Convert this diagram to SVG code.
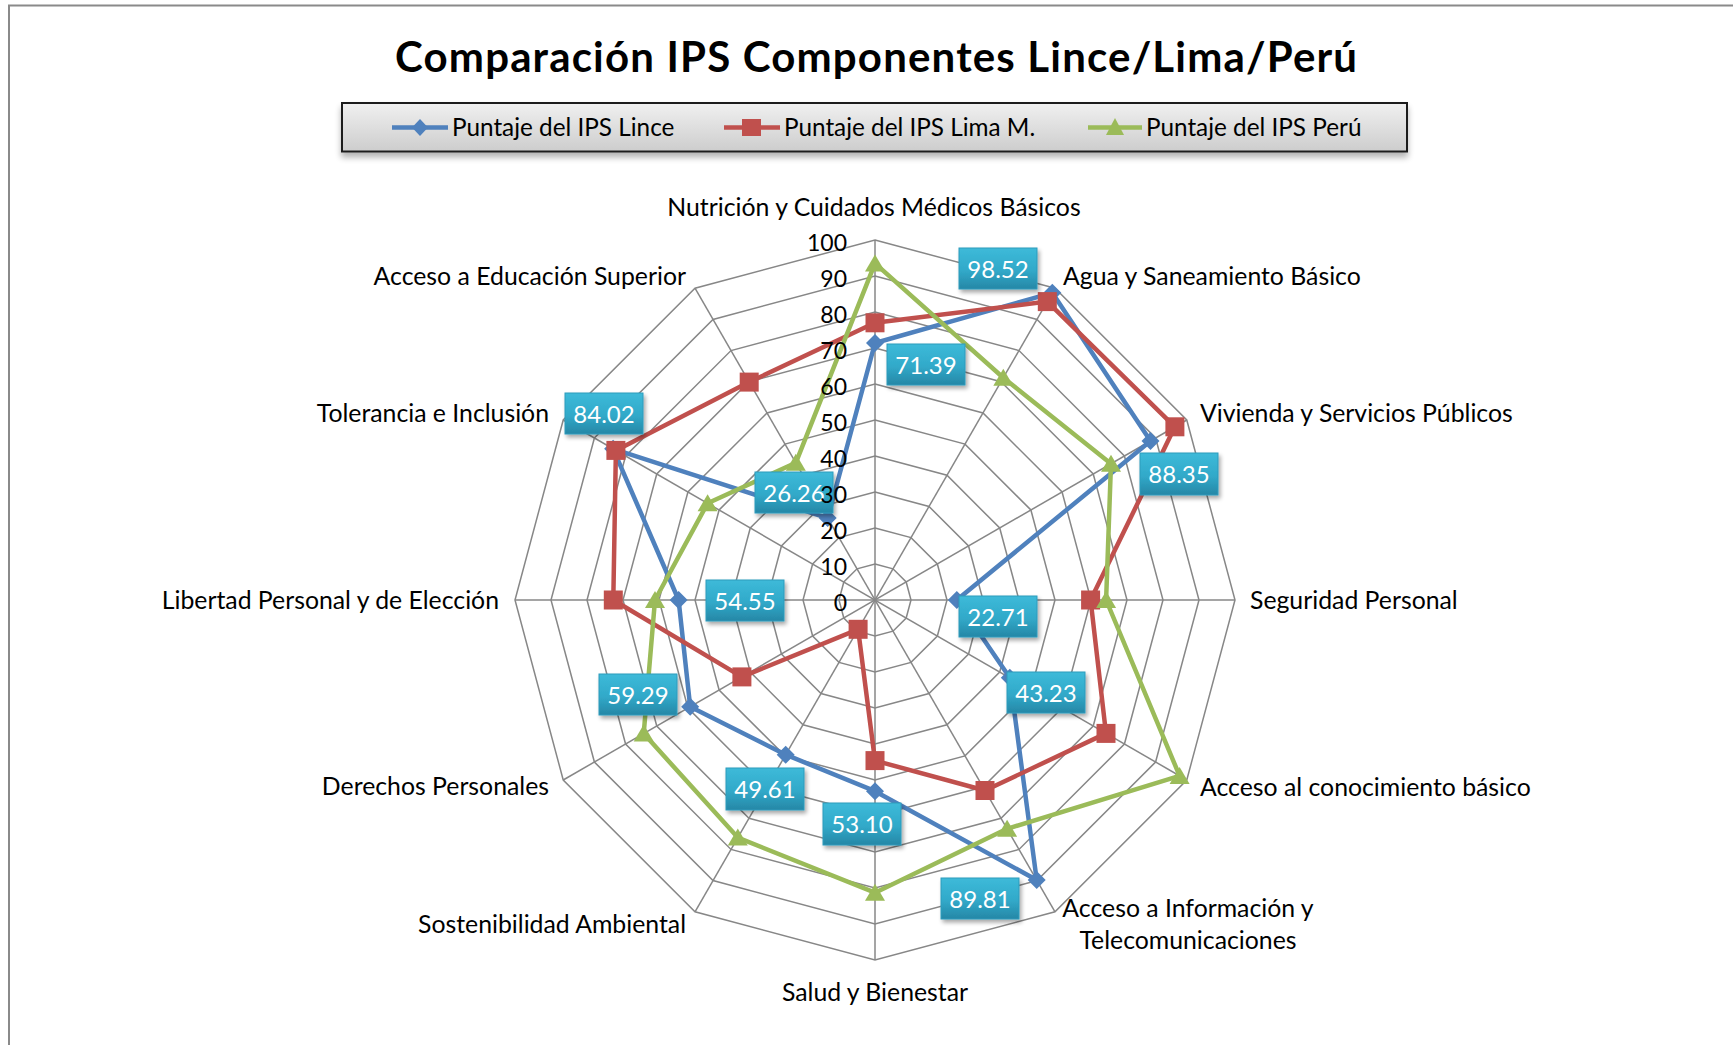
<svg xmlns="http://www.w3.org/2000/svg" xmlns:xlink="http://www.w3.org/1999/xlink" width="1733" height="1045" viewBox="0 0 1733 1045">
<style>
  text { font-family: Lato, "Liberation Sans", sans-serif; fill: #000; }
  .title { font-size: 42px; font-weight: bold; }
  .leg { font-size: 24.3px; }
  .ax { font-size: 24.8px; }
  .sc { font-size: 23px; text-anchor: end; }
  .dl { font-size: 24px; fill: #fff; text-anchor: middle; }
  .grid { fill: none; stroke: #878787; stroke-width: 1.5; }
  .lince { fill: none; stroke: #4F81BD; stroke-width: 4.5; stroke-linejoin: round; }
  .lima { fill: none; stroke: #C0504D; stroke-width: 4.5; stroke-linejoin: round; }
  .peru { fill: none; stroke: #9BBB59; stroke-width: 4.5; stroke-linejoin: round; }
  .box { fill: url(#boxg); stroke: #2C9BBC; stroke-width: 1; filter: url(#sh); }
</style>
<defs>
  <linearGradient id="boxg" x1="0" y1="0" x2="0" y2="1">
    <stop offset="0" stop-color="#3DBAD9"/>
    <stop offset="0.55" stop-color="#31A9C9"/>
    <stop offset="1" stop-color="#2687A6"/>
  </linearGradient>
  <linearGradient id="legg" x1="0" y1="0" x2="0" y2="1">
    <stop offset="0" stop-color="#F0F0F0"/>
    <stop offset="1" stop-color="#CDCDCD"/>
  </linearGradient>
  <filter id="sh" x="-20%" y="-20%" width="150%" height="160%">
    <feGaussianBlur in="SourceAlpha" stdDeviation="2"/>
    <feOffset dx="2" dy="3" result="b"/>
    <feComponentTransfer><feFuncA type="linear" slope="0.35"/></feComponentTransfer>
    <feMerge><feMergeNode/><feMergeNode in="SourceGraphic"/></feMerge>
  </filter>
  <filter id="lsh" x="-5%" y="-30%" width="110%" height="180%">
    <feGaussianBlur in="SourceAlpha" stdDeviation="3"/>
    <feOffset dx="0" dy="5" result="b"/>
    <feComponentTransfer><feFuncA type="linear" slope="0.3"/></feComponentTransfer>
    <feMerge><feMergeNode/><feMergeNode in="SourceGraphic"/></feMerge>
  </filter>
  <polygon id="ring" points="0,-360 180,-311.77 311.77,-180 360,0 311.77,180 180,311.77 0,360 -180,311.77 -311.77,180 -360,0 -311.77,-180 -180,-311.77" class="grid" vector-effect="non-scaling-stroke"/>
  <marker id="mDia" markerUnits="userSpaceOnUse" markerWidth="24" markerHeight="24" refX="12" refY="12" viewBox="0 0 24 24" overflow="visible">
    <polygon points="12,3 21,12 12,21 3,12" fill="#4F81BD"/>
  </marker>
  <marker id="mSq" markerUnits="userSpaceOnUse" markerWidth="24" markerHeight="24" refX="12" refY="12" viewBox="0 0 24 24" overflow="visible">
    <rect x="2.5" y="2.5" width="19" height="19" fill="#C0504D"/>
  </marker>
  <marker id="mTri" markerUnits="userSpaceOnUse" markerWidth="24" markerHeight="24" refX="12" refY="12" viewBox="0 0 24 24" overflow="visible">
    <polygon points="12,3 22,20 2,20" fill="#9BBB59"/>
  </marker>
</defs>

<rect x="0" y="0" width="1733" height="1045" fill="#fff"/>
<rect x="9" y="5.5" width="1800" height="1100" fill="#fff" stroke="#8A8A8A" stroke-width="2"/>

<g id="title"><text class="title" x="876" y="72" text-anchor="middle" textLength="962">Comparación IPS Componentes Lince/Lima/Perú</text></g>

<g id="legend">
  <rect x="342" y="103" width="1065" height="48.5" fill="url(#legg)" stroke="#1E1E1E" stroke-width="2" filter="url(#lsh)"/>
  <line x1="392" y1="127.5" x2="448" y2="127.5" stroke="#4F81BD" stroke-width="4.5"/>
  <polygon points="420,119 428,127.5 420,136 412,127.5" fill="#4F81BD"/>
  <text class="leg" x="452" y="136">Puntaje del IPS Lince</text>
  <line x1="724" y1="127.5" x2="780" y2="127.5" stroke="#C0504D" stroke-width="4.5"/>
  <rect x="742" y="119" width="19" height="17" fill="#C0504D"/>
  <text class="leg" x="784" y="136">Puntaje del IPS Lima M.</text>
  <line x1="1088" y1="127.5" x2="1142" y2="127.5" stroke="#9BBB59" stroke-width="4.5"/>
  <polygon points="1115,118 1124,135 1106,135" fill="#9BBB59"/>
  <text class="leg" x="1146" y="136">Puntaje del IPS Perú</text>
</g>

<g id="grid" transform="translate(875,600)">
  <use href="#ring" transform="scale(0.1)"/>
  <use href="#ring" transform="scale(0.2)"/>
  <use href="#ring" transform="scale(0.3)"/>
  <use href="#ring" transform="scale(0.4)"/>
  <use href="#ring" transform="scale(0.5)"/>
  <use href="#ring" transform="scale(0.6)"/>
  <use href="#ring" transform="scale(0.7)"/>
  <use href="#ring" transform="scale(0.8)"/>
  <use href="#ring" transform="scale(0.9)"/>
  <use href="#ring"/>
  <g class="grid">
    <line x1="0" y1="-360" x2="0" y2="360"/>
    <line x1="180" y1="-311.77" x2="-180" y2="311.77"/>
    <line x1="311.77" y1="-180" x2="-311.77" y2="180"/>
    <line x1="360" y1="0" x2="-360" y2="0"/>
    <line x1="311.77" y1="180" x2="-311.77" y2="-180"/>
    <line x1="180" y1="311.77" x2="-180" y2="-311.77"/>
  </g>
</g>

<g id="axis-labels">
  <text class="ax" x="874" y="216" text-anchor="middle">Nutrición y Cuidados Médicos Básicos</text>
  <text class="ax" x="1063" y="285">Agua y Saneamiento Básico</text>
  <text class="ax" x="1200" y="421.5">Vivienda y Servicios Públicos</text>
  <text class="ax" x="1250" y="608.5">Seguridad Personal</text>
  <text class="ax" x="1200" y="796">Acceso al conocimiento básico</text>
  <text class="ax" x="1188" y="917" text-anchor="middle">Acceso a Información y</text>
  <text class="ax" x="1188" y="949" text-anchor="middle">Telecomunicaciones</text>
  <text class="ax" x="875" y="1001" text-anchor="middle">Salud y Bienestar</text>
  <text class="ax" x="686" y="933" text-anchor="end">Sostenibilidad Ambiental</text>
  <text class="ax" x="549" y="795" text-anchor="end">Derechos Personales</text>
  <text class="ax" x="499" y="608.5" text-anchor="end">Libertad Personal y de Elección</text>
  <text class="ax" x="549" y="421.5" text-anchor="end">Tolerancia e Inclusión</text>
  <text class="ax" x="686" y="285" text-anchor="end">Acceso a Educación Superior</text>
</g>

<g id="connectors">
  <polygon id="s-lince" class="lince" marker-start="url(#mDia)" marker-mid="url(#mDia)" points="875,343.0 1052.3,292.8 1150.5,441.0 956.8,600 1009.8,677.8 1036.7,880.0 875,791.2 785.7,754.7 690.2,706.7 678.6,600 613.1,448.8 827.7,518.1"/>
  <polygon id="s-lima" class="lima" marker-start="url(#mSq)" marker-mid="url(#mSq)" points="875,322.8 1047.3,301.6 1174.9,426.8 1090.6,600 1106.0,733.4 985.0,790.5 875,760.6 858.1,629.3 741.9,676.9 613.3,600 615.9,450.4 749.2,382.1"/>
  <polygon id="s-peru" class="peru" marker-start="url(#mTri)" marker-mid="url(#mTri)" points="875,263.4 1003.3,377.7 1111.0,463.7 1106.1,600 1179.6,775.9 1007.1,828.8 875,892.7 737.8,837.6 643.7,733.6 655.0,600 707.6,503.3 795.8,462.8"/>
</g>

<g id="data-labels">
  <g id="dl-1"><rect class="box" x="959" y="248" width="78" height="41"/><text class="dl" x="998" y="278">98.52</text></g>
  <g id="dl-0"><rect class="box" x="887" y="344" width="78" height="41"/><text class="dl" x="926" y="374">71.39</text></g>
  <g id="dl-2"><rect class="box" x="1140" y="453" width="78" height="42"/><text class="dl" x="1179" y="483">88.35</text></g>
  <g id="dl-11"><rect class="box" x="755" y="472" width="78" height="41"/><text class="dl" x="794" y="502">26.26</text></g>
  <g id="dl-10"><rect class="box" x="565" y="393" width="78" height="41"/><text class="dl" x="604" y="423">84.02</text></g>
  <g id="dl-9"><rect class="box" x="706" y="580" width="78" height="41"/><text class="dl" x="745" y="610">54.55</text></g>
  <g id="dl-3"><rect class="box" x="959" y="596" width="78" height="41"/><text class="dl" x="998" y="626">22.71</text></g>
  <g id="dl-4"><rect class="box" x="1007" y="672" width="78" height="41"/><text class="dl" x="1046" y="702">43.23</text></g>
  <g id="dl-8"><rect class="box" x="599" y="674" width="78" height="41"/><text class="dl" x="638" y="704">59.29</text></g>
  <g id="dl-7"><rect class="box" x="726" y="768" width="78" height="42"/><text class="dl" x="765" y="798">49.61</text></g>
  <g id="dl-6"><rect class="box" x="823" y="803" width="78" height="42"/><text class="dl" x="862" y="833">53.10</text></g>
  <g id="dl-5"><rect class="box" x="941" y="878" width="78" height="41"/><text class="dl" x="980" y="908">89.81</text></g>
</g>

<g id="scale-labels">
  <text class="sc" x="847" y="610.5">0</text>
  <text class="sc" x="847" y="574.5">10</text>
  <text class="sc" x="847" y="538.5">20</text>
  <text class="sc" x="847" y="502.5">30</text>
  <text class="sc" x="847" y="466.5">40</text>
  <text class="sc" x="847" y="430.5">50</text>
  <text class="sc" x="847" y="394.5">60</text>
  <text class="sc" x="847" y="358.5">70</text>
  <text class="sc" x="847" y="322.5">80</text>
  <text class="sc" x="847" y="286.5">90</text>
  <text class="sc" x="847" y="250.5">100</text>
</g>
</svg>
